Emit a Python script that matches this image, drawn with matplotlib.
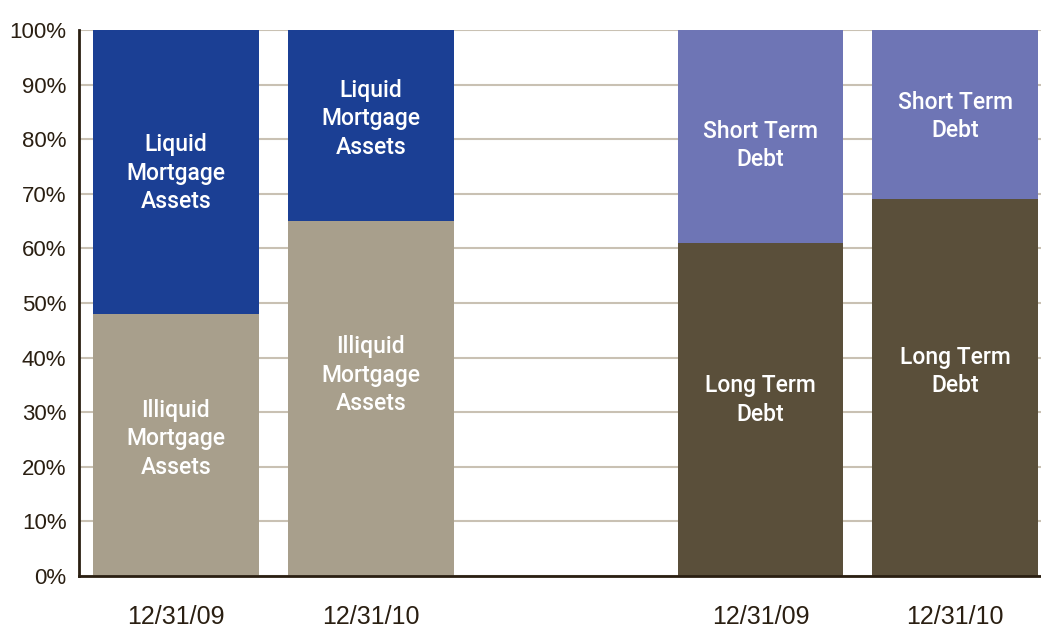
import matplotlib.pyplot as plt

# données (en %)
positions = [0, 1, 3, 4]
dates = ['12/31/09', '12/31/10', '12/31/09', '12/31/10']
bas = [48, 65, 61, 69]          # illiquide / dette long terme
haut = [52, 35, 39, 31]         # liquide / dette court terme
labels_bas = ['Illiquid\nMortgage\nAssets', 'Illiquid\nMortgage\nAssets',
              'Long Term\nDebt', 'Long Term\nDebt']
labels_haut = ['Liquid\nMortgage\nAssets', 'Liquid\nMortgage\nAssets',
               'Short Term\nDebt', 'Short Term\nDebt']

couleurs_bas = ['#a89f8c', '#a89f8c', '#5a4f3a', '#5a4f3a']
couleurs_haut = ['#1b3f94', '#1b3f94', '#6e75b5', '#6e75b5']

# décalage vertical des étiquettes par rapport au milieu du segment
decal_bas = [1.1, 4.3, 1.7, 2.9]
decal_haut = [-0.2, 1.2, -1.7, -0.3]

plt.rcParams['font.family'] = ['Liberation Sans', 'DejaVu Sans']

fig = plt.figure(figsize=(10.41, 6.24), dpi=100)
ax = fig.add_axes([79/1041, 48/624, 1 - 79/1041, 546/624])

ax.bar(positions, bas, width=0.85, color=couleurs_bas, zorder=2)
ax.bar(positions, haut, width=0.85, bottom=bas, color=couleurs_haut, zorder=2)

for i in range(len(positions)):
    ax.text(positions[i], bas[i] / 2 + decal_bas[i], labels_bas[i],
            ha='center', va='center', color='white', fontsize=16.5,
            family='Roboto', fontweight='medium',
            linespacing=1.3, zorder=3)
    ax.text(positions[i], bas[i] + haut[i] / 2 + decal_haut[i], labels_haut[i],
            ha='center', va='center', color='white', fontsize=16.5,
            family='Roboto', fontweight='medium',
            linespacing=1.3, zorder=3)

ax.set_xlim(-0.497, 4.44)
ax.set_ylim(0, 100)
ax.set_yticks(range(0, 101, 10))
ax.set_yticklabels([str(v) + '%' for v in range(0, 101, 10)])
ax.set_xticks(positions)
ax.set_xticklabels(dates)

ax.grid(axis='y', color='#c9c1b3', linewidth=1.5, zorder=1)
ax.set_axisbelow(True)
ax.tick_params(axis='both', length=0, colors='#2a1f12')
ax.tick_params(axis='y', pad=9, labelsize=16)
ax.tick_params(axis='x', pad=21, labelsize=18)

for cote in ['top', 'right']:
    ax.spines[cote].set_visible(False)
for cote in ['left', 'bottom']:
    ax.spines[cote].set_color('#2a1f12')
    ax.spines[cote].set_linewidth(2)
    ax.spines[cote].set_zorder(4)

fig.savefig('out.png', dpi=100)
